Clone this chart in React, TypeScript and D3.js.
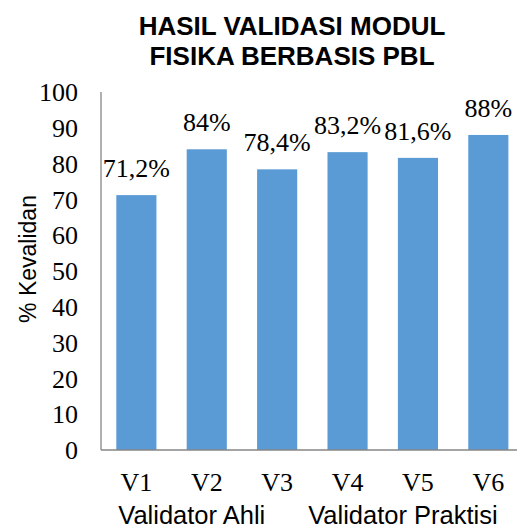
import React from "react";
import * as d3 from "d3";

const categories = ["V1", "V2", "V3", "V4", "V5", "V6"];
const values = [71.2, 84, 78.4, 83.2, 81.6, 88];
const valueLabels = ["71,2%", "84%", "78,4%", "83,2%", "81,6%", "88%"];
const groups = ["Validator Ahli", "Validator Praktisi"];
const groupMembers = [["V1", "V2", "V3"], ["V4", "V5", "V6"]];
const yTicks = [0, 10, 20, 30, 40, 50, 60, 70, 80, 90, 100];
const titleLines = ["HASIL VALIDASI MODUL", "FISIKA BERBASIS PBL"];
const yTitle = "% Kevalidan";

const W = 529;
const H = 531;
const plotLeft = 101;
const plotRight = 517;
const plotTop = 92;
const plotBottom = 450;

export default function App() {
  const x = d3
    .scaleBand<string>()
    .domain(categories)
    .range([plotLeft, plotRight])
    .paddingInner(0.43)
    .paddingOuter(0.17)
    .align(0.64);
  const y = d3.scaleLinear().domain([0, 100]).range([plotBottom, plotTop]);
  const serif = "'Liberation Serif', 'Times New Roman', serif";
  const sans = "'Liberation Sans', Arial, sans-serif";
  const bw = x.bandwidth();

  return (
    <svg
      width={W}
      height={H}
      style={{ position: "absolute", left: 0, top: 0, background: "#fff" }}
    >
      {titleLines.map((t, i) => (
        <text
          key={t}
          x={292}
          y={35 + i * 30}
          textAnchor="middle"
          fontFamily={sans}
          fontWeight="bold"
          fontSize={26}
          fill="#000"
        >
          {t}
        </text>
      ))}
      <line x1={plotLeft} x2={plotLeft} y1={y(100)} y2={y(0)} stroke="#868686" strokeWidth={1.3} />
      {yTicks.map((t) => (
        <text
          key={t}
          x={78}
          y={y(t)}
          dy="0.35em"
          textAnchor="end"
          fontFamily={serif}
          fontSize={26}
          fill="#000"
        >
          {t}
        </text>
      ))}
      {categories.map((c, i) => (
        <rect
          key={c}
          x={x(c)}
          y={y(values[i])}
          width={bw}
          height={y(0) - y(values[i])}
          fill="#5B9BD5"
        />
      ))}
      {categories.map((c, i) => (
        <text
          key={c + "l"}
          x={(x(c) as number) + bw / 2}
          y={y(values[i]) - 18}
          textAnchor="middle"
          fontFamily={serif}
          fontSize={26}
          fill="#000"
        >
          {valueLabels[i]}
        </text>
      ))}
      <line x1={plotLeft} x2={plotRight} y1={y(0)} y2={y(0)} stroke="#868686" strokeWidth={1.3} />
      {categories.map((c) => (
        <text
          key={c + "c"}
          x={(x(c) as number) + bw / 2}
          y={491}
          textAnchor="middle"
          fontFamily={serif}
          fontSize={26}
          fill="#000"
        >
          {c}
        </text>
      ))}
      {groups.map((g, gi) => {
        const cx =
          d3.mean(groupMembers[gi], (m) => (x(m) as number) + bw / 2)! - 15;
        return (
          <text
            key={g}
            x={cx}
            y={524}
            textAnchor="middle"
            fontFamily={sans}
            fontSize={25.5}
            fill="#000"
          >
            {g}
          </text>
        );
      })}
      <text
        transform={`translate(28, 259) rotate(-90)`}
        textAnchor="middle"
        dominantBaseline="central"
        fontFamily={sans}
        fontSize={23}
        fill="#000"
      >
        {yTitle}
      </text>
    </svg>
  );
}
